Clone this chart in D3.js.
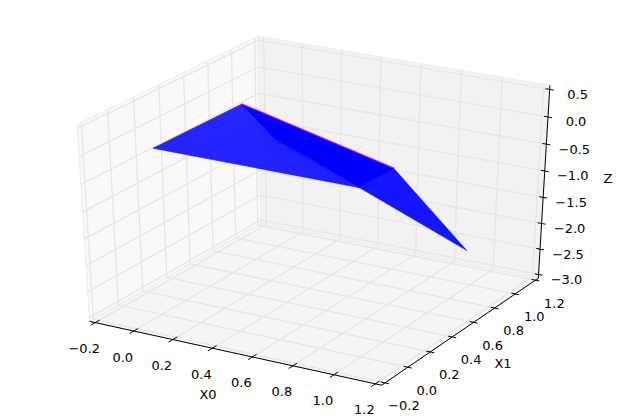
<!DOCTYPE html>
<html><head><meta charset="utf-8">
<style>html,body{margin:0;padding:0;background:#fff}svg{display:block}text{font-family:"DejaVu Sans";font-size:13px;fill:#000}</style>
<script src="https://cdn.jsdelivr.net/npm/d3@7/dist/d3.min.js"></script>
</head><body><svg id="c" width="619" height="419"></svg>
<script>
const xLim = [-0.2, 1.2], yLim = [-0.2, 1.2], zLim = [-3, 0.5];
const xTicks = [-0.2, 0, 0.2, 0.4, 0.6, 0.8, 1.0, 1.2];
const yTicks = [-0.2, 0, 0.2, 0.4, 0.6, 0.8, 1.0, 1.2];
const zTicks = [-3, -2.5, -2, -1.5, -1, -0.5, 0, 0.5];
const xTickLabels = ["−0.2","0.0","0.2","0.4","0.6","0.8","1.0","1.2"];
const yTickLabels = ["−0.2","0.0","0.2","0.4","0.6","0.8","1.0","1.2"];
const zTickLabels = ["−3.0","−2.5","−2.0","−1.5","−1.0","−0.5","0.0","0.5"];
// surface vertices: [X0, X1, Z]
const cornerA = [-0.01, 0, 0.03];
const cornerB = [0, 0.70, 0.03];
const cornerC = [0.579, 1.043, -1.187];
const cornerD = [0.957, 1.043, -2.49];
const kneeE = [0.826, 0.283, -0.436];
const kneeF = [0.316, 0.446, -0.089];

const elev = 30*Math.PI/180, azim = -60*Math.PI/180, dist = 10;
const nx = Math.cos(azim)*Math.cos(elev), ny = Math.sin(azim)*Math.cos(elev), nz = Math.sin(elev);
const ux = -ny/Math.hypot(nx,ny), uy = nx/Math.hypot(nx,ny);
const vx = -nz*uy, vy = nz*ux, vz = nx*uy-ny*ux;
const U = d3.scaleLinear().domain(xLim).range([0,1]);
const V = d3.scaleLinear().domain(yLim).range([0,1]);
const W = d3.scaleLinear().domain(zLim).range([0,1]);
const sx = d3.scaleLinear().domain([0,1]).range([317.6,317.6+323.4]);
const sy = d3.scaleLinear().domain([0,1]).range([204.5,204.5-216]);
function projUnit(u,v,w){
  const a=u-.5,b=v-.5,c=w-.5, d=a*nx+b*ny+c*nz, f=1/(1-d/dist);
  return [sx((a*ux+b*uy)*f), sy((a*vx+b*vy+c*vz)*f)];
}
const P = p => projUnit(U(p[0]),V(p[1]),W(p[2]));
const lo=-1/48, hi=49/48;
const svg=d3.select("#c");
const line=d3.line();
const path=(pts,o)=>{const s=svg.append("path").attr("d",line(pts));for(const k in o)s.attr(k,o[k]);return s;};

// panes
const pane=(pts,fill)=>path(pts.map(p=>projUnit(...p)).concat([projUnit(...pts[0])]),{fill,stroke:"#eeeeee","stroke-width":1.2});
pane([[lo,lo,lo],[lo,hi,lo],[lo,hi,hi],[lo,lo,hi]],"#f9f9f9");
pane([[lo,hi,lo],[hi,hi,lo],[hi,hi,hi],[lo,hi,hi]],"#f2f2f2");
pane([[lo,lo,lo],[hi,lo,lo],[hi,hi,lo],[lo,hi,lo]],"#f5f5f5");
// grid
const gs={fill:"none",stroke:"#e6e6e6","stroke-width":1.3};
xTicks.forEach(t=>{const u=U(t);path([[u,lo,lo],[u,hi,lo],[u,hi,hi]].map(p=>projUnit(...p)),gs);});
yTicks.forEach(t=>{const v=V(t);path([[hi,v,lo],[lo,v,lo],[lo,v,hi]].map(p=>projUnit(...p)),gs);});
zTicks.forEach(t=>{const w=W(t);path([[lo,lo,w],[lo,hi,w],[hi,hi,w]].map(p=>projUnit(...p)),gs);});
// axes
const as={fill:"none",stroke:"#000","stroke-width":1};
path([[lo,lo,lo],[hi,lo,lo]].map(p=>projUnit(...p)),as);
path([[hi,lo,lo],[hi,hi,lo]].map(p=>projUnit(...p)),as);
path([[hi,hi,lo],[hi,hi,hi]].map(p=>projUnit(...p)),as);
xTicks.forEach((t,i)=>{const u=U(t);path([[u,lo-.025,lo],[u,lo+.025,lo]].map(p=>projUnit(...p)),as);
  const q=projUnit(u,lo,lo);svg.append("text").attr("x",q[0]-11).attr("y",q[1]+26).attr("text-anchor","middle").attr("dominant-baseline","central").text(xTickLabels[i]);});
yTicks.forEach((t,i)=>{const v=V(t);path([[hi-.014,v,lo],[hi+.014,v,lo]].map(p=>projUnit(...p)),as);
  const q=projUnit(hi,v,lo);svg.append("text").attr("x",q[0]+19).attr("y",q[1]+23).attr("text-anchor","middle").attr("dominant-baseline","central").text(yTickLabels[i]);});
zTicks.forEach((t,i)=>{const w=W(t);path([[hi-.014,hi,w],[hi+.014,hi,w]].map(p=>projUnit(...p)),as);
  const q=projUnit(hi,hi,w);svg.append("text").attr("x",q[0]+28).attr("y",q[1]+5).attr("text-anchor","middle").attr("dominant-baseline","central").text(zTickLabels[i]);});
[["X0",208,394],["X1",503,363],["Z",608,178]].forEach(d=>svg.append("text").attr("x",d[1]).attr("y",d[2]).attr("text-anchor","middle").attr("dominant-baseline","central").text(d[0]));

// surface
const A=P(cornerA),B=P(cornerB),C=P(cornerC),D=P(cornerD),E=P(kneeE),F=P(kneeF);
path([B,C],{fill:"none",stroke:"#ff00ff","stroke-width":1.2}).attr("transform","translate(0.3,-0.5)");
path([A,B,F,E,A],{fill:"#2a2aff",stroke:"#1c1cff","stroke-width":0.5});
const mix=(p,q,t)=>[p[0]+(q[0]-p[0])*t,p[1]+(q[1]-p[1])*t];
d3.range(0,1.001,1/25).forEach(t=>path([mix(A,B,t),mix(E,F,t)],{fill:"none",stroke:"#0000ff","stroke-width":0.7,"stroke-opacity":0.45}));
path([C,D,E,C],{fill:"#1515ff",stroke:"#1010ff","stroke-width":0.5});
path([B,C,E,F,B],{fill:"#0000ff",stroke:"#0000ff","stroke-width":0.5});
</script></body></html>
